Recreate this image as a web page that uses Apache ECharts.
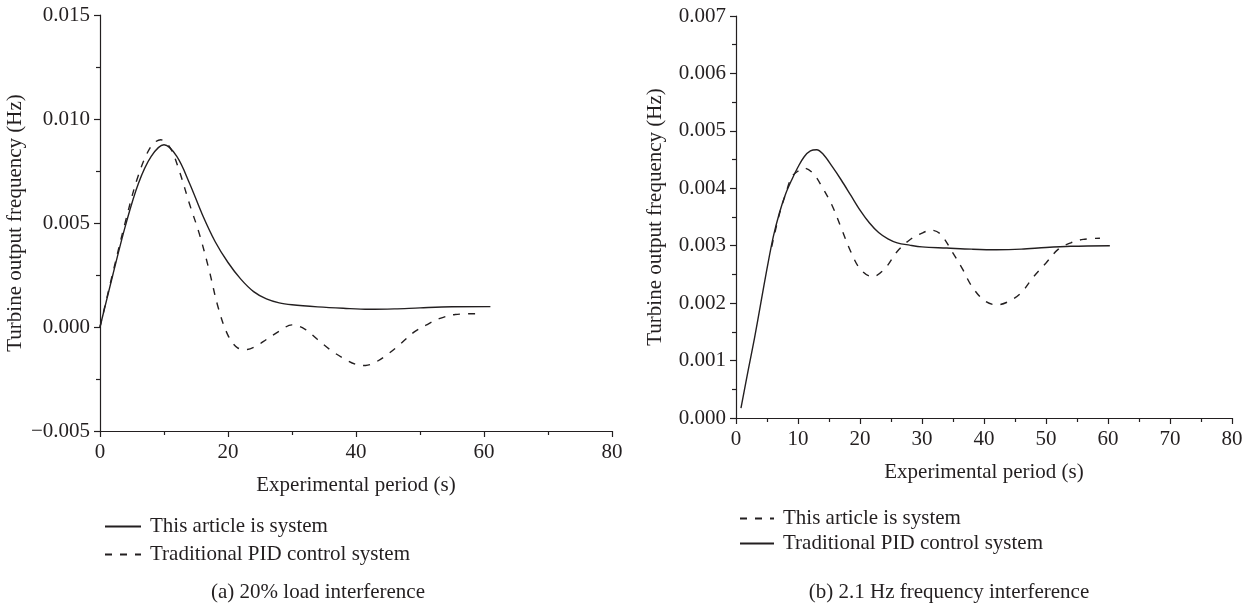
<!DOCTYPE html>
<html>
<head>
<meta charset="utf-8">
<script src="https://cdn.jsdelivr.net/npm/echarts@6/dist/echarts.min.js"></script>
<style>
  html, body { margin: 0; padding: 0; background: #fff; }
  #chart { width: 1250px; height: 606px; }
</style>
</head>
<body>
<div id="chart"></div>
<script>
// ---------- Data ----------
// (a) 20% load interference
const aArticleTime = [0, 2, 4, 6, 8, 10, 12, 14, 16, 18, 20, 22, 24, 26, 28, 30, 34, 38, 42, 46, 50, 55, 61];
const aArticleValue = [0, 0.0025, 0.0049, 0.0069, 0.0082, 0.00876, 0.0082, 0.0069, 0.0054, 0.0041, 0.0031, 0.0023, 0.0017, 0.00135, 0.00116, 0.00107, 0.00097, 0.0009, 0.00085, 0.00087, 0.00092, 0.00097, 0.00098];
const aPidTime = [0, 2, 4, 6, 8, 9.5, 11, 12.5, 14, 15.5, 17, 18.5, 20, 21.5, 23, 24.5, 26, 28, 30, 32, 34, 36, 38, 40, 41.5, 43, 45, 47, 49, 51, 53, 55.5, 59];
const aPidValue = [0, 0.0026, 0.0051, 0.0073, 0.0087, 0.0090, 0.0086, 0.0074, 0.0059, 0.0045, 0.0028, 0.0009, -0.0004, -0.0010, -0.00108, -0.0009, -0.0006, -0.0002, 0.0001, -0.0001, -0.0006, -0.0011, -0.0015, -0.0018, -0.00185, -0.0017, -0.0013, -0.0008, -0.00026, 0.0001, 0.0004, 0.0006, 0.00064];

// (b) 2.1 Hz frequency interference
const bArticleTime = [5.75, 7, 8, 9, 10, 11, 12.5, 14, 15.5, 17, 18.5, 20, 22, 24, 26, 28, 30, 31.5, 33, 35, 36.5, 38, 40, 42, 44, 46, 48, 50, 52, 54, 56, 58.7];
const bArticleValue = [0.00298, 0.00355, 0.0039, 0.0042, 0.0043, 0.00435, 0.00425, 0.0040, 0.0037, 0.0033, 0.0029, 0.0026, 0.00246, 0.0026, 0.0029, 0.0031, 0.00322, 0.00327, 0.0032, 0.00287, 0.0026, 0.0023, 0.00205, 0.00197, 0.00203, 0.00218, 0.00246, 0.0027, 0.00294, 0.00305, 0.00311, 0.00313];
const bPidTime = [0.8, 2, 3, 4, 5, 6, 7, 8, 9, 10, 11, 12, 13, 14, 15.5, 17, 18.5, 20, 21.5, 23, 24.5, 26, 28, 30, 34, 38, 42, 46, 50, 54, 60.3];
const bPidValue = [0.00017, 0.00085, 0.0014, 0.0020, 0.0026, 0.00315, 0.00357, 0.0039, 0.00415, 0.00437, 0.00455, 0.00465, 0.00467, 0.0046, 0.00438, 0.00414, 0.00388, 0.00362, 0.0034, 0.00323, 0.00312, 0.00305, 0.00301, 0.00298, 0.00296, 0.00294, 0.00293, 0.00294, 0.00297, 0.00299, 0.0030];

const seriesNames = { a1: 'This article is system', a2: 'Traditional PID control system', b1: 'This article is system', b2: 'Traditional PID control system' };
const captionA = '(a) 20% load interference';
const captionB = '(b) 2.1 Hz frequency interference';
const xTitle = 'Experimental period (s)';
const yTitle = 'Turbine output frequency (Hz)';

// ---------- Helpers ----------
function pairs(xs, ys) { return xs.map((x, i) => [x, ys[i]]); }
const FONT = 'Liberation Serif';
const INK = '#231f20';
const FS = 21;

function yFmt(v) {
  const s = Math.abs(v) < 1e-12 ? '0.000' : v.toFixed(3);
  return s.replace('-', '\u2212');
}

function xAxisCfg(gridIndex, interval) {
  return {
    type: 'value', gridIndex, min: 0, max: 80, interval,
    name: xTitle, nameLocation: 'middle', nameGap: 44,
    nameTextStyle: { fontFamily: FONT, fontSize: FS, color: INK },
    axisLine: { onZero: false, lineStyle: { color: INK, width: 1.2 } },
    axisTick: { show: true, inside: false, length: 6, lineStyle: { color: INK, width: 1.2 } },
    minorTick: { show: true, splitNumber: 2, length: 4, lineStyle: { color: INK, width: 1.2 } },
    axisLabel: { fontFamily: FONT, fontSize: FS, color: INK, margin: 11 },
    splitLine: { show: false }
  };
}
function yAxisCfg(gridIndex, min, max, interval, gap) {
  return {
    type: 'value', gridIndex, min, max, interval,
    name: yTitle, nameLocation: 'middle', nameGap: gap,
    nameTextStyle: { fontFamily: FONT, fontSize: FS, color: INK },
    axisLine: { show: true, onZero: false, lineStyle: { color: INK, width: 1.2 } },
    axisTick: { show: true, inside: false, length: 6, lineStyle: { color: INK, width: 1.2 } },
    minorTick: { show: true, splitNumber: 2, length: 4, lineStyle: { color: INK, width: 1.2 } },
    axisLabel: { fontFamily: FONT, fontSize: FS, color: INK, margin: 10, formatter: yFmt },
    splitLine: { show: false }
  };
}
function lineSeries(name, idx, data, dashed) {
  return {
    name, type: 'line', xAxisIndex: idx, yAxisIndex: idx,
    data, smooth: 0.35, symbol: 'none', showSymbol: false,
    lineStyle: { color: INK, width: 1.4, type: dashed ? [7, 8] : 'solid' },
    itemStyle: { color: INK },
    emphasis: { disabled: true },
    animation: false, z: 3
  };
}
function legendCfg(names, left, top, gap, w) {
  return {
    data: names, orient: 'vertical', left, top, itemWidth: w, itemHeight: 14, itemGap: gap,
    formatter: n => seriesNames[n], selectedMode: false,
    itemStyle: { color: 'rgba(0,0,0,0)', borderWidth: 0, opacity: 0 },
    textStyle: { fontFamily: FONT, fontSize: FS, color: INK, padding: [0, 0, 0, 4] }
  };
}

const chart = echarts.init(document.getElementById('chart'), null, { renderer: 'canvas' });
chart.setOption({
  backgroundColor: '#ffffff',
  animation: false,
  title: [
    { text: captionA, left: 313, top: 577, textAlign: 'center',
      textStyle: { fontFamily: FONT, fontSize: FS, fontWeight: 'normal', color: INK } },
    { text: captionB, left: 944, top: 577, textAlign: 'center',
      textStyle: { fontFamily: FONT, fontSize: FS, fontWeight: 'normal', color: INK } }
  ],
  grid: [
    { left: 100, top: 15, width: 512, height: 416, containLabel: false },
    { left: 736, top: 16, width: 496, height: 402, containLabel: false }
  ],
  xAxis: [xAxisCfg(0, 20), xAxisCfg(1, 10)],
  yAxis: [yAxisCfg(0, -0.005, 0.015, 0.005, 74), yAxisCfg(1, 0, 0.007, 0.001, 70)],
  legend: [
    legendCfg(['a1', 'a2'], 99, 511, 7, 36),
    legendCfg(['b1', 'b2'], 734, 503, 4, 34)
  ],
  series: [
    lineSeries('a1', 0, pairs(aArticleTime, aArticleValue), false),
    lineSeries('a2', 0, pairs(aPidTime, aPidValue), true),
    lineSeries('b1', 1, pairs(bArticleTime, bArticleValue), true),
    lineSeries('b2', 1, pairs(bPidTime, bPidValue), false)
  ]
});
</script>
</body>
</html>
